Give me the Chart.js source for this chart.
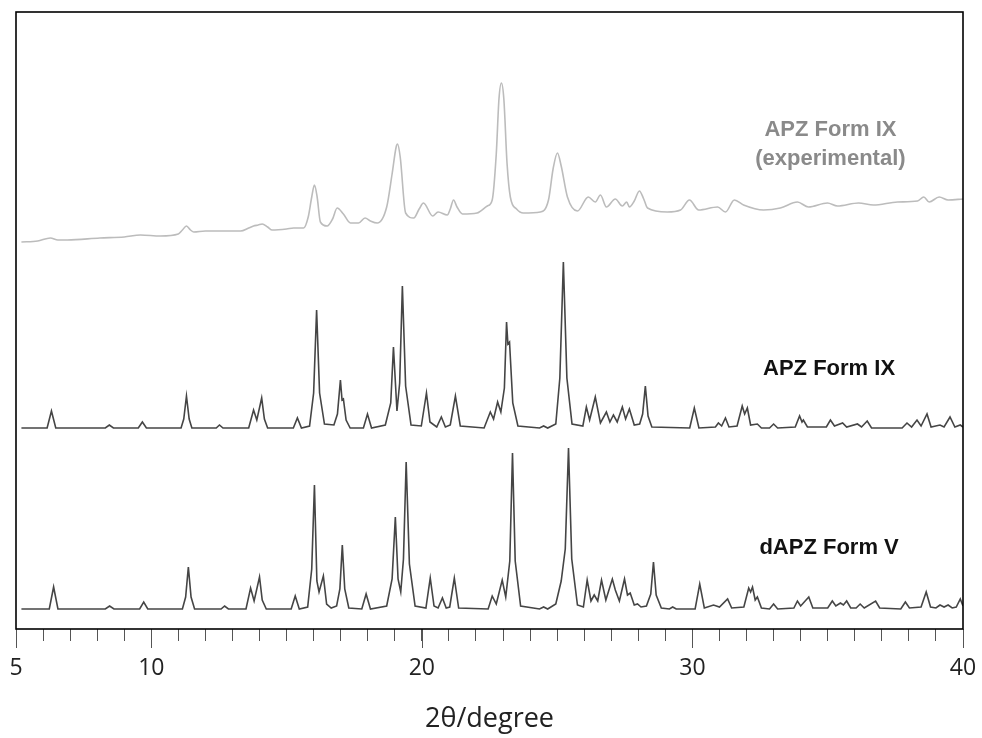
<!DOCTYPE html>
<html>
<head>
<meta charset="utf-8">
<script src="https://cdn.jsdelivr.net/npm/chart.js@4.4.1/dist/chart.umd.min.js"></script>
<style>
  html, body { margin: 0; padding: 0; background: #fff; }
  #wrap { width: 982px; height: 738px; position: relative; }
</style>
</head>
<body>
<div id="wrap"><canvas id="xrd"></canvas></div>
<script>
// Diffraction patterns, [2theta, intensity above own baseline]
const expFormIX = [
  [5.2,7],[5.8,8],[6.27,11],[6.55,9],[6.9,9],[8.1,11],[9.0,12],[9.6,14],[10.34,13],[11.0,15],
  [11.15,19],[11.3,23],[11.45,19],[11.57,17],[12.0,18],[12.45,18],[13.3,18],[13.6,21],[13.78,23],
  [13.95,24],[14.1,25],[14.3,22],[14.47,19],[15.0,20],[15.26,21],[15.63,21],[15.8,32],[15.93,52],
  [16.03,64],[16.13,52],[16.25,27],[16.5,23],[16.7,30],[16.87,41],[17.1,35],[17.36,26],[17.66,26],
  [17.9,31],[18.1,28],[18.35,26],[18.7,42],[18.9,75],[19.05,102],[19.1,105],[19.2,92],[19.4,36],
  [19.7,31],[19.9,40],[20.06,46],[20.4,33],[20.6,37],[20.94,34],[21.05,40],[21.17,49],[21.3,42],
  [21.5,35],[22.04,36],[22.42,43],[22.6,49],[22.75,95],[22.85,150],[22.94,166],[23.03,150],
  [23.15,85],[23.27,52],[23.5,40],[23.75,36],[24.38,37],[24.68,49],[24.85,80],[25.01,96],
  [25.15,83],[25.38,52],[25.75,38],[26.15,52],[26.41,47],[26.6,54],[26.82,42],[27.15,50],
  [27.41,43],[27.57,47],[27.67,42],[27.85,48],[28.04,58],[28.2,50],[28.34,41],[29.07,37],
  [29.56,39],[29.89,49],[30.23,39],[30.93,42],[31.22,37],[31.55,49],[31.89,44],[32.63,39],
  [33.25,41],[33.88,47],[34.29,42],[34.99,46],[35.36,43],[36.14,46],[36.69,44],[37.58,47],
  [38.32,48],[38.55,52],[38.75,47],[39.12,52],[39.45,49],[40,50]
];

const simFormIX = [
  [5.2,0],[6.15,0],[6.31,17],[6.47,0],
  [8.3,0],[8.45,3],[8.6,0],
  [9.52,0],[9.67,6],[9.82,0],
  [11.1,0],[11.2,9],[11.3,32],[11.4,9],[11.5,0],
  [12.4,0],[12.52,3],[12.65,0],
  [13.6,0],[13.78,18],[13.9,8],[14.08,30],[14.18,9],[14.3,0],
  [15.25,0],[15.4,10],[15.55,0],
  [15.85,2],[16.0,35],[16.11,118],[16.22,35],[16.4,4],
  [16.75,3],[16.88,14],[16.99,48],[17.05,28],[17.1,29],[17.2,8],[17.35,0],
  [17.84,0],[17.99,14],[18.14,0],
  [18.65,3],[18.85,25],[18.95,81],[19.08,17],[19.18,45],[19.28,142],[19.4,42],[19.6,3],
  [19.98,2],[20.17,35],[20.3,6],[20.55,1],[20.72,11],[20.87,1],
  [21.05,3],[21.24,32],[21.42,2],
  [22.3,0],[22.53,16],[22.65,9],[22.8,26],[22.92,16],[23.05,40],[23.13,106],[23.18,84],[23.24,86],[23.36,25],[23.55,2],
  [24.35,0],[24.5,2],[24.65,0],
  [24.95,4],[25.1,50],[25.23,166],[25.36,50],[25.55,4],
  [25.95,2],[26.08,21],[26.2,8],[26.41,31],[26.6,5],[26.82,16],[26.95,6],[27.08,13],[27.22,6],
  [27.41,21],[27.53,9],[27.67,19],[27.85,3],
  [28.05,4],[28.16,14],[28.26,42],[28.36,12],[28.5,1],
  [29.9,0],[30.07,20],[30.24,0],
  [30.85,1],[30.96,5],[31.08,2],[31.22,10],[31.35,1],
  [31.65,2],[31.84,22],[31.93,14],[32.03,20],[32.15,3],[32.4,4],[32.55,0],
  [32.85,0],[33.0,4],[33.15,0],
  [33.8,1],[33.96,12],[34.05,6],[34.1,8],[34.25,1],
  [34.95,1],[35.1,8],[35.25,2],[35.55,5],[35.7,1],[36.1,4],[36.25,1],[36.46,7],[36.62,0],
  [37.75,0],[37.93,5],[38.1,1],[38.3,8],[38.45,2],[38.67,14],[38.82,1],
  [39.15,3],[39.3,1],[39.52,11],[39.7,1],[39.9,3],[40,1]
];

const simFormV = [
  [5.2,0],[6.23,0],[6.39,22],[6.55,0],
  [8.3,0],[8.46,3],[8.62,0],
  [9.57,0],[9.72,7],[9.87,0],
  [11.15,0],[11.27,12],[11.37,42],[11.47,12],[11.6,0],
  [12.58,0],[12.71,3],[12.85,0],
  [13.5,0],[13.67,21],[13.8,8],[14.0,32],[14.1,9],[14.25,0],
  [15.17,0],[15.32,13],[15.47,0],
  [15.78,2],[15.93,40],[16.03,124],[16.12,28],[16.2,17],[16.36,33],[16.48,5],[16.65,1],
  [16.85,3],[16.97,20],[17.06,64],[17.15,20],[17.3,1],
  [17.78,0],[17.94,15],[18.1,0],
  [18.7,3],[18.9,30],[19.02,92],[19.12,30],[19.22,17],[19.32,50],[19.42,147],[19.54,45],[19.75,3],
  [20.15,1],[20.31,31],[20.45,3],[20.6,1],[20.76,11],[20.9,1],
  [21.03,2],[21.2,31],[21.36,1],
  [22.45,0],[22.6,13],[22.75,5],[22.97,29],[23.1,12],[23.25,48],[23.35,156],[23.45,48],[23.65,3],
  [24.35,0],[24.5,2],[24.65,0],
  [24.95,5],[25.15,28],[25.3,60],[25.42,161],[25.54,50],[25.75,4],
  [25.97,2],[26.11,29],[26.25,8],[26.37,14],[26.5,8],[26.64,29],[26.8,9],[27.04,30],[27.15,19],
  [27.3,8],[27.49,30],[27.6,14],[27.7,16],[27.85,4],[27.97,5],[28.1,2],
  [28.3,3],[28.46,15],[28.56,47],[28.66,14],[28.85,1],
  [29.15,0],[29.27,2],[29.4,0],
  [30.1,0],[30.27,25],[30.44,1],[30.78,4],[31.0,2],[31.3,10],[31.45,1],
  [31.9,2],[32.08,21],[32.15,17],[32.22,22],[32.32,9],[32.4,12],[32.55,1],
  [32.85,0],[33.0,5],[33.15,0],
  [33.75,1],[33.88,8],[34.0,3],[34.3,12],[34.45,1],
  [35.0,1],[35.17,8],[35.3,3],[35.47,6],[35.58,4],[35.7,8],[35.85,1],
  [36.05,1],[36.2,5],[36.35,1],[36.77,8],[36.92,1],
  [37.7,0],[37.87,7],[38.02,1],
  [38.45,2],[38.64,17],[38.8,2],
  [39.0,1],[39.15,4],[39.3,2],[39.45,4],[39.6,1],[39.75,2],[39.9,10],[40,3]
];

// vertical stacking offsets of each pattern
const offsetExp = 380;
const offsetIX = 201;
const offsetV = 20;

const tickLabels = [5, 10, 20, 30, 40];
const majorTicks = [5, 10, 20, 30, 40];

// in-plot labels: [2theta, height, text, colour]
const traceLabels = [
  [35.1, 499, 'APZ Form IX', '#8a8a8a'],
  [35.1, 470, '(experimental)', '#8a8a8a'],
  [35.05, 260, 'APZ Form IX', '#111'],
  [35.05, 81, 'dAPZ Form V', '#111']
];

function stack(points, off) {
  return points.map(p => ({ x: p[0], y: p[1] + off }));
}

const framePlugin = {
  id: 'frame',
  afterDraw(chart) {
    const ctx = chart.ctx;
    const a = chart.chartArea;
    const xs = chart.scales.x;
    ctx.save();
    // longer major ticks
    ctx.strokeStyle = '#555';
    ctx.lineWidth = 1;
    majorTicks.forEach(v => {
      const px = Math.round(xs.getPixelForValue(v)) + 0.5;
      ctx.beginPath();
      ctx.moveTo(px, a.bottom);
      ctx.lineTo(px, a.bottom + 19);
      ctx.stroke();
    });
    // box
    ctx.strokeStyle = '#000';
    ctx.lineWidth = 1.6;
    ctx.strokeRect(a.left, a.top, a.right - a.left, a.bottom - a.top);
    // labels
    ctx.font = 'bold 22px "Liberation Sans", Arial, sans-serif';
    ctx.textAlign = 'center';
    ctx.textBaseline = 'middle';
    traceLabels.forEach(l => {
      ctx.fillStyle = l[3];
      ctx.fillText(l[2], xs.getPixelForValue(l[0]), chart.scales.y.getPixelForValue(l[1]));
    });
    ctx.restore();
  }
};

const lineStyle = { borderWidth: 1.6, pointRadius: 0, tension: 0, fill: false };

new Chart(document.getElementById('xrd'), {
  type: 'line',
  data: {
    datasets: [
      { label: 'APZ Form IX (experimental)', data: stack(expFormIX, offsetExp), borderColor: '#bcbcbc',
        ...lineStyle, cubicInterpolationMode: 'monotone' },
      { label: 'APZ Form IX', data: stack(simFormIX, offsetIX), borderColor: '#454545', ...lineStyle },
      { label: 'dAPZ Form V', data: stack(simFormV, offsetV), borderColor: '#454545', ...lineStyle }
    ]
  },
  options: {
    responsive: true,
    maintainAspectRatio: false,
    animation: false,
    layout: { padding: { left: 16, right: 19, top: 12, bottom: 0 } },
    plugins: { legend: { display: false }, tooltip: { enabled: false } },
    scales: {
      x: {
        type: 'linear',
        min: 5,
        max: 40,
        afterFit(scale) {
          scale.height = 109;
          scale.paddingLeft = 0;
          scale.paddingRight = 0;
        },
        afterBuildTicks(scale) {
          scale.ticks = [];
          for (let v = 5; v <= 40; v++) scale.ticks.push({ value: v });
        },
        grid: { display: true, drawOnChartArea: false, drawTicks: true, tickLength: 12, color: '#555' },
        border: { display: false },
        ticks: {
          autoSkip: false,
          maxRotation: 0,
          padding: 14,
          color: '#222',
          font: { family: '"Open Sans", sans-serif', size: 23 },
          callback: v => tickLabels.includes(v) ? String(v) : ''
        },
        title: {
          display: true,
          text: '2θ/degree',
          color: '#222',
          font: { family: '"Open Sans", sans-serif', size: 27 },
          padding: { top: 0, bottom: 2 }
        }
      },
      y: { display: false, min: 0, max: 617 }
    }
  },
  plugins: [framePlugin]
});
</script>
</body>
</html>
